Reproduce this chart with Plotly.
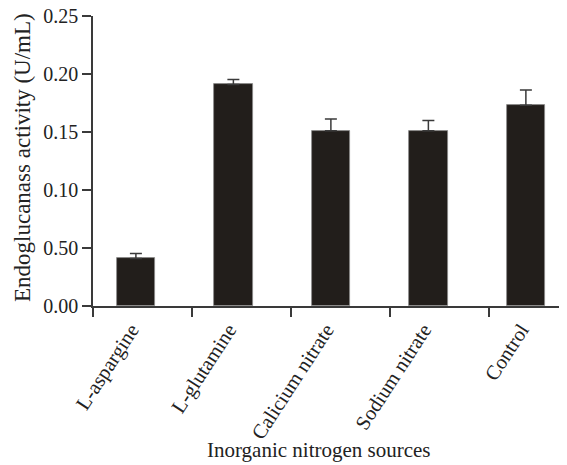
import plotly.graph_objects as go

categories = ["L-aspargine", "L-glutamine", "Calicium nitrate", "Sodium nitrate", "Control"]
activity = [0.041, 0.191, 0.151, 0.151, 0.173]
errors = [0.0043, 0.0043, 0.0101, 0.0089, 0.0133]
y_tick_values = [0.0, 0.05, 0.10, 0.15, 0.20, 0.25]
y_tick_labels = ["0.00", "0.50", "0.10", "0.15", "0.20", "0.25"]

positions = list(range(len(categories)))
boundary_ticks = [p - 0.44 + 0.015 * p for p in positions]
label_positions = [p - 0.05 for p in positions]

font_family = "Liberation Serif, Times New Roman, serif"
axis_color = "#3a3a3a"

# the page body has an 8px default margin, so the figure is sized to fit the window
PAGE = 8
W, H = 567 - PAGE, 465 - PAGE
L, R, T, B = 85, 7, 8, 159
plot_w = W - L - R
plot_h = H - T - B

fig = go.Figure()
fig.add_trace(go.Bar(
    x=positions,
    y=activity,
    width=0.395,
    marker=dict(color="#221e1b", line=dict(color="#8a8a8a", width=0.8)),
    error_y=dict(type="data", array=errors, visible=True, symmetric=False,
                 arrayminus=[0] * len(errors),
                 color="#3a3a3a", thickness=1.5, width=6),
    showlegend=False,
))

fig.update_layout(
    width=W, height=H,
    margin=dict(l=L, r=R, t=T, b=B),
    paper_bgcolor="white", plot_bgcolor="white",
    font=dict(family=font_family, size=20, color="#222222"),
    bargap=0,
)
fig.update_xaxes(
    automargin=False,
    range=[-0.44, 4.35],
    tickmode="array", tickvals=label_positions, ticktext=categories,
    tickangle=-57,
    ticks="outside", ticklen=2, tickcolor="rgba(0,0,0,0)",
    tickfont=dict(size=20.5),
    ticklabeloverflow="allow",
    minor=dict(tickmode="array", tickvals=boundary_ticks, ticks="outside",
               ticklen=9, tickwidth=1.5, tickcolor=axis_color),
    showline=True, linecolor=axis_color, linewidth=1.5,
    showgrid=False, zeroline=False,
)
fig.update_yaxes(
    automargin=False,
    range=[0, 0.25],
    tickmode="array", tickvals=y_tick_values, ticktext=y_tick_labels,
    ticks="outside", ticklen=9, tickwidth=1.5, tickcolor=axis_color,
    tickfont=dict(size=20),
    ticklabeloverflow="allow",
    showline=True, linecolor=axis_color, linewidth=1.5,
    showgrid=False, zeroline=False,
)
fig.add_annotation(
    text="Inorganic nitrogen sources", showarrow=False,
    xref="paper", yref="paper",
    x=(319 - PAGE - L) / plot_w, y=-(464 - PAGE - (H - B)) / plot_h,
    xanchor="center", yanchor="bottom", font=dict(size=21),
)
fig.add_annotation(
    text="Endoglucanass activity (U/mL)", showarrow=False, textangle=-90,
    xref="paper", yref="paper",
    x=(22 - PAGE - L) / plot_w, y=((H - B) - (158 - PAGE)) / plot_h,
    xanchor="center", yanchor="middle", font=dict(size=23),
)

fig.write_html("out.html")
